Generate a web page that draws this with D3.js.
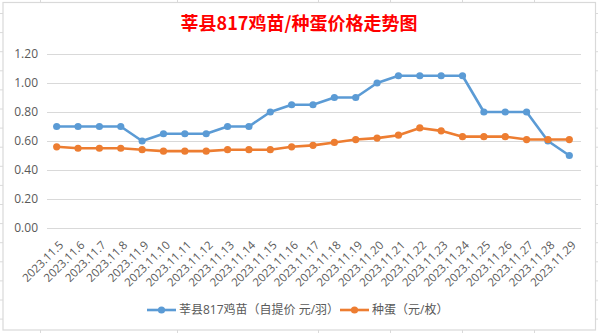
<!DOCTYPE html>
<html><head><meta charset="utf-8">
<script src="https://cdn.jsdelivr.net/npm/d3@7/dist/d3.min.js"></script>
<style>
html,body{margin:0;padding:0;background:#fff;}
svg{display:block;}
text{font-family:"Open Sans","Noto Sans CJK SC",sans-serif;}
</style></head>
<body>
<script>
const categories = ["2023.11.5","2023.11.6","2023.11.7","2023.11.8","2023.11.9","2023.11.10","2023.11.11","2023.11.12","2023.11.13","2023.11.14","2023.11.15","2023.11.16","2023.11.17","2023.11.18","2023.11.19","2023.11.20","2023.11.21","2023.11.22","2023.11.23","2023.11.24","2023.11.25","2023.11.26","2023.11.27","2023.11.28","2023.11.29"];
const chickValues = [0.70,0.70,0.70,0.70,0.60,0.65,0.65,0.65,0.70,0.70,0.80,0.85,0.85,0.90,0.90,1.00,1.05,1.05,1.05,1.05,0.80,0.80,0.80,0.60,0.50];
const eggValues = [0.56,0.55,0.55,0.55,0.54,0.53,0.53,0.53,0.54,0.54,0.54,0.56,0.57,0.59,0.61,0.62,0.64,0.69,0.67,0.63,0.63,0.63,0.61,0.61,0.61];
const yTicks = [0,0.2,0.4,0.6,0.8,1.0,1.2];
const seriesNames = ["莘县817鸡苗（自提价 元/羽）","种蛋（元/枚）"];
const titleText = "莘县817鸡苗/种蛋价格走势图";

const W = 598, H = 333;
const svg = d3.select("body").append("svg").attr("width", W).attr("height", H);

// spreadsheet cell lines outside chart frame
const sheet = svg.append("g").attr("stroke", "#dadada").attr("stroke-width", 1);
[40.5,177.5,318.5,390.5,462.5,534.5].forEach(x => {
  sheet.append("line").attr("x1", x).attr("x2", x).attr("y1", 0).attr("y2", 3);
  sheet.append("line").attr("x1", x).attr("x2", x).attr("y1", 330).attr("y2", 333);
});
for (let y = 13.5; y < 330; y += 19.1) {
  sheet.append("line").attr("x1", 0).attr("x2", 3).attr("y1", y).attr("y2", y);
  sheet.append("line").attr("x1", 596).attr("x2", 598).attr("y1", y).attr("y2", y);
}

// chart frame
svg.append("rect").attr("x", 3).attr("y", 2.5).attr("width", 592.5).attr("height", 327.5)
  .attr("fill", "#fff").attr("stroke", "#d9d9d9").attr("stroke-width", 1.2);

// title
svg.append("text").attr("x", 299).attr("y", 30).attr("text-anchor", "middle")
  .attr("fill", "#ff0000").attr("font-size", 18).attr("font-weight", "bold")
  .style("font-family", "'Noto Sans CJK SC',sans-serif")
  .text(titleText);

const x = d3.scalePoint().domain(categories).range([46, 580]).padding(0.5);
const y = d3.scaleLinear().domain([0, 1.2]).range([228, 54]);

// gridlines
const yAxis = d3.axisLeft(y).tickValues(yTicks).tickFormat(d3.format(".2f"))
  .tickSize(-(581 - 47)).tickPadding(9);
const gy = svg.append("g").attr("transform", "translate(47,0)").call(yAxis);
gy.select(".domain").remove();
gy.selectAll(".tick line").attr("stroke", "#d9d9d9").attr("stroke-width", 1);
gy.selectAll(".tick text").attr("fill", "#595959").attr("font-size", 12);

// x labels
const xAxis = d3.axisBottom(x).tickSize(0);
const gx = svg.append("g").attr("transform", "translate(0,228)").call(xAxis);
gx.select(".domain").remove();
gx.selectAll(".tick text")
  .attr("fill", "#595959").attr("font-size", 11.5)
  .attr("text-anchor", "end")
  .attr("y", 0).attr("dy", "0.35em")
  .attr("transform", "translate(4,15) rotate(-45)");

// series
const series = [
  {name: seriesNames[0], values: chickValues, color: "#5b9bd5"},
  {name: seriesNames[1], values: eggValues, color: "#ed7d31"}
];
const line = d3.line().x((d, i) => x(categories[i])).y(d => y(d));
series.forEach(s => {
  svg.append("path").datum(s.values).attr("d", line)
    .attr("fill", "none").attr("stroke", s.color).attr("stroke-width", 2.6)
    .attr("stroke-linejoin", "round").attr("stroke-linecap", "round");
  svg.append("g").selectAll("circle").data(s.values).join("circle")
    .attr("cx", (d, i) => x(categories[i])).attr("cy", d => y(d))
    .attr("r", 3.6).attr("fill", s.color);
});

// legend
const legendItems = [{x: 147, color: series[0].color, name: series[0].name},
                     {x: 340, color: series[1].color, name: series[1].name}];
const lg = svg.append("g");
legendItems.forEach(it => {
  lg.append("line").attr("x1", it.x).attr("x2", it.x + 29).attr("y1", 310).attr("y2", 310)
    .attr("stroke", it.color).attr("stroke-width", 2.6);
  lg.append("circle").attr("cx", it.x + 14.5).attr("cy", 310).attr("r", 3.6).attr("fill", it.color);
  lg.append("text").attr("x", it.x + 32).attr("y", 310).attr("dy", "0.36em")
    .attr("fill", "#595959").attr("font-size", 12).text(it.name);
});
</script>
</body></html>
